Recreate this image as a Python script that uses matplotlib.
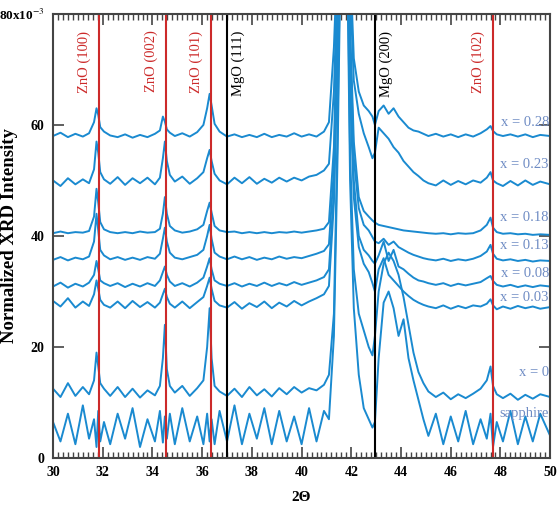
import matplotlib.pyplot as plt
from matplotlib.ticker import MultipleLocator, FixedLocator, FixedFormatter

plt.rcParams['font.family'] = ['Liberation Serif', 'DejaVu Serif']
plt.rcParams['mathtext.fontset'] = 'stix'

# 2-theta sample points (shared by every trace)
two_theta = [30.0, 30.3, 30.6, 30.9, 31.2, 31.45,
             31.65, 31.75, 31.82, 31.9, 32.05,
             32.3, 32.6, 32.9, 33.2, 33.5, 33.8, 34.1, 34.3,
             34.42, 34.5, 34.58, 34.7,
             34.9, 35.2, 35.5, 35.8, 36.05,
             36.2, 36.3, 36.38, 36.5, 36.7,
             37.0, 37.3, 37.6, 37.9, 38.2, 38.5, 38.8, 39.1, 39.4, 39.7, 40.0, 40.3, 40.6, 40.9,
             41.1, 41.3, 41.45, 41.55, 41.7, 41.85, 41.95, 42.1, 42.3, 42.5, 42.7, 42.85, 42.95,
             43.1, 43.3, 43.5, 43.7, 43.9, 44.1, 44.3, 44.5, 44.7, 44.9,
             45.1, 45.4, 45.7, 46.0, 46.3, 46.6, 46.9, 47.2,
             47.45, 47.6, 47.7, 47.85,
             48.1, 48.4, 48.7, 49.0, 49.3, 49.6, 50.0]

# normalized intensity (x10^-3), offset traces
x028 = [58.0, 58.6, 57.8, 58.4, 57.9, 58.5,
        60.5, 63.0, 61.8, 59.6, 58.8,
        58.1, 57.8, 58.3, 57.7, 58.2, 57.8, 58.4, 59.0,
        61.5, 60.6, 59.2, 58.6,
        58.0, 58.5, 57.9, 58.7, 60.0,
        63.0, 65.6, 63.5, 60.2, 58.8,
        57.9, 58.3, 57.8, 58.2, 57.8, 58.4, 57.8, 58.2, 57.9, 58.5, 57.9, 58.3, 57.9, 58.8,
        60.5, 74, 92, 115, 130, 115, 90, 72, 66, 63.5, 62.5, 61.5, 60.0,
        62.5, 63.5, 62.0, 63.0, 61.5, 60.5, 59.5, 59.0, 58.8, 58.4,
        58.0, 58.4, 57.9, 58.3, 57.8, 58.3, 57.9, 58.5,
        59.2, 59.8, 58.9, 58.3,
        58.0, 58.3, 57.9, 58.3, 57.8, 58.2, 58.0]
x023 = [50.0, 49.0, 50.4, 49.3, 50.2, 49.5,
        52.0, 57.0, 55.0, 51.5, 50.2,
        49.4, 50.6, 49.2, 50.4, 49.5, 50.5, 49.3, 50.5,
        54.0, 57.0, 53.5, 51.0,
        49.8, 50.7, 49.4, 50.4, 51.5,
        54.0, 55.5, 53.5, 51.2, 50.0,
        49.3, 50.5, 49.5, 50.6, 49.4, 50.3, 49.6, 50.5, 49.8, 50.5, 50.0, 50.7, 51.0, 51.8,
        53.0, 66, 88, 110, 125, 110, 85, 68, 62, 58.5, 56, 54, 55.0,
        59.5, 58.5, 57.5, 56.0, 55.0, 53.5, 52.5, 51.5, 50.8, 50.0,
        49.5, 49.1, 50.0, 49.2, 49.9, 49.3, 50.0, 49.6,
        50.5, 51.5, 50.0, 49.5,
        49.0, 49.9, 49.1, 50.0, 49.2, 49.8, 49.3]
x018 = [40.5, 40.8, 40.5, 40.7, 40.6, 40.9,
        43.5, 48.5, 46.0, 42.5, 41.2,
        40.7, 40.5, 40.7, 40.5, 40.8, 40.6, 40.7, 41.3,
        44.0, 47.0, 44.0, 41.8,
        41.0, 40.6, 40.8, 41.2, 42.0,
        44.5, 46.0, 44.2, 41.8, 41.0,
        40.7, 40.8, 40.5, 40.7, 40.5, 40.7, 40.5, 40.7, 40.6, 40.8, 40.6, 40.8, 41.0, 41.3,
        42.5, 56, 84, 105, 125, 105, 78, 57, 47, 44.5, 43.5, 42.8, 42.4,
        42.0, 41.8, 41.6, 41.4, 41.2, 41.0, 40.9, 40.8, 40.7, 40.6,
        40.5, 40.4, 40.5, 40.3, 40.5, 40.4, 40.5, 41.0,
        42.0, 43.3, 41.5, 40.7,
        40.4, 40.5, 40.3, 40.4, 40.2, 40.3, 40.2]
x013 = [35.7, 36.2, 35.6, 36.1, 35.8, 36.3,
        39.0, 44.0, 41.0, 37.5, 36.5,
        35.8, 36.2, 35.7, 36.1, 35.7, 36.2, 35.9, 36.8,
        39.5, 41.5, 39.0, 37.0,
        36.1, 35.8, 36.2, 36.6, 37.5,
        40.0, 42.0, 39.5, 37.0, 36.3,
        35.8, 36.3, 35.8, 36.2, 35.7, 36.1, 35.8, 36.3, 35.9, 36.2, 36.0, 36.4, 36.8, 37.3,
        38.5, 52, 80, 102, 122, 102, 75, 54, 45, 42.0, 41.0, 39.8, 39.0,
        38.7, 39.5, 38.4, 39.0, 38.0, 37.5, 37.0, 36.6, 36.3, 36.0,
        35.8, 35.6, 35.9, 35.5, 35.8, 35.6, 35.9, 36.4,
        37.2, 38.4, 36.8, 35.9,
        35.6, 35.8, 35.5, 35.7, 35.4, 35.6, 35.5]
x008 = [30.9, 31.6, 30.7, 31.4, 30.9, 31.6,
        33.0, 35.5, 34.0, 32.0, 31.5,
        31.0, 31.5, 30.8, 31.4, 30.9, 31.5, 31.0, 32.0,
        33.5, 34.5, 33.0, 31.8,
        31.0, 31.5, 30.9, 31.6, 32.5,
        34.5, 36.0, 34.0, 32.0, 31.4,
        31.0, 31.5, 30.9, 31.4, 31.0, 31.6, 31.0, 31.5, 31.1, 31.7, 31.2, 31.6, 32.0, 32.6,
        34.0, 48, 76, 100, 120, 100, 70, 50, 40, 37.5, 36.5, 35.5, 35.0,
        36.5, 39.0, 35.5, 37.5, 34.5, 34.0, 33.2, 32.5, 32.0, 31.8,
        31.5, 31.2, 31.5, 31.0, 31.4, 31.1, 31.4, 31.7,
        32.4, 32.8, 31.9, 31.2,
        30.9, 31.2, 30.8, 31.1, 30.8, 31.1, 30.9]
x003 = [28.3, 27.3, 28.8, 27.1, 28.2, 27.4,
        29.5, 32.0, 30.5, 28.5, 27.6,
        27.1, 28.2, 27.0, 28.3, 27.2, 28.1, 27.1, 28.0,
        29.5, 30.5, 29.0, 27.8,
        27.1, 28.2, 27.0, 28.1, 29.0,
        31.0, 32.5, 30.5, 28.3, 27.5,
        27.1, 28.1, 26.9, 27.9, 27.2, 28.2, 27.0, 28.0, 27.3, 28.3, 27.5, 28.2, 28.8, 29.5,
        31.0, 46, 72, 96, 118, 96, 66, 47, 38, 35.0, 33.5, 31.5, 30.0,
        34.0, 36.0, 33.0, 32.0, 31.0, 30.0, 29.2, 28.5, 28.0, 27.6,
        27.3, 27.0, 27.5, 26.9, 27.4, 27.0, 27.5, 27.3,
        27.8, 28.6, 27.5, 26.8,
        27.3, 26.9, 27.4, 27.0, 27.3, 26.9, 27.2]
x000 = [12.5, 11.0, 13.5, 11.2, 12.8, 11.5,
        14.0, 19.0, 16.5, 13.5, 12.5,
        11.2, 12.8, 11.0, 12.5, 10.9, 12.2, 11.3, 13.0,
        18.0, 24.0, 16.0, 13.0,
        11.8, 13.0, 11.2, 12.6, 14.0,
        20.0, 27.0, 18.0, 13.0, 12.0,
        11.2, 12.5, 11.0, 12.8, 11.3, 12.4, 11.1, 12.6, 11.5, 12.8, 11.8, 12.6, 12.2, 13.2,
        15.0, 26.0, 60, 90, 115, 90, 55, 34, 26, 23, 20, 18.5, 22.0,
        30.0, 35.0, 37.0, 35.5, 33.0, 29.0, 24.0, 19.0, 15.5, 13.5,
        12.0, 11.0, 11.8, 10.6, 11.5, 10.8, 11.6, 12.5,
        14.0, 16.5, 13.0, 11.5,
        10.8, 11.6, 10.5, 11.4, 10.7, 11.5, 11.0]
sapphire = [6.5, 3.0, 8.0, 2.5, 9.5, 3.5,
            7.0, 2.0, 8.5, 3.0, 6.5,
            2.5, 8.0, 3.5, 9.0, 2.0, 7.0, 3.0, 8.5,
            2.8, 7.5, 3.5, 8.0,
            2.5, 9.0, 3.0, 7.5, 2.5,
            8.0, 3.0, 7.0, 2.5, 8.5,
            3.0, 9.5, 2.5, 8.0, 3.5, 9.0, 2.5, 8.5, 3.0, 7.5, 2.5, 9.0, 3.0, 8.5,
            7.0, 22.0, 55, 85, 110, 85, 50, 27, 15, 9.0, 7.0, 5.5, 6.5,
            18.0, 28.0, 30.0, 27.0, 22.0, 25.0, 18.0, 14.0, 10.5, 7.0,
            4.0, 8.0, 2.5, 7.5, 3.0, 8.5, 2.5, 7.0,
            3.5, 8.0, 2.0, 6.5,
            3.0, 8.5, 2.5, 7.5, 3.0, 8.0, 4.0]

traces = [x028, x023, x018, x013, x008, x003, x000, sapphire]
trace_labels = ['x = 0.28', 'x = 0.23', 'x = 0.18', 'x = 0.13', 'x = 0.08', 'x = 0.03', 'x = 0', 'sapphire']
label_y = [60.5, 52.8, 43.4, 38.2, 33.3, 29.0, 15.5, 8.1]

ref_pos = [31.85, 34.55, 36.36, 37.0, 42.96, 47.7]
ref_names = ['ZnO (100)', 'ZnO (002)', 'ZnO (101)', 'MgO (111)', 'MgO (200)', 'ZnO (102)']
ref_colors = ['#cc2a2a', '#cc2a2a', '#cc2a2a', 'black', 'black', '#cc2a2a']

fig = plt.figure(figsize=(5.58, 5.13), dpi=100)
ax = fig.add_axes([0.095, 0.107, 0.891, 0.866])

for y in traces:
    ax.plot(two_theta, y, color='#1a8ad0', lw=1.4)

for pos, name, c in zip(ref_pos, ref_names, ref_colors):
    ax.axvline(pos, color=c, lw=1.5)
    if name.startswith('ZnO'):
        ax.text(pos - 0.6, 77, name, rotation=90, color=c, fontsize=10.5,
                ha='center', va='top')
    else:
        ax.text(pos + 0.45, 77, name, rotation=90, color=c, fontsize=10.5,
                ha='center', va='top')

for lab, ly in zip(trace_labels, label_y):
    ax.text(49.95, ly, lab, color='#6f8cc4', fontsize=10.5, ha='right', va='center')

ax.set_xlim(30, 50)
ax.set_ylim(0, 80)
ax.xaxis.set_major_locator(MultipleLocator(2))
ax.xaxis.set_minor_locator(MultipleLocator(0.2))
ax.yaxis.set_major_locator(FixedLocator([0, 20, 40, 60, 80]))
ax.yaxis.set_major_formatter(FixedFormatter(['0', '20', '40', '60', '80x10$^{-3}$']))
ax.tick_params(which='both', direction='in', top=True, right=True, color='#444444')
ax.tick_params(which='major', length=8, width=1.2, labelsize=10, pad=6)
ax.tick_params(which='minor', length=4, width=1.0)
for lbl in ax.get_xticklabels() + ax.get_yticklabels():
    lbl.set_fontweight('bold')
ax.get_yticklabels()[-1].set_fontsize(9.5)
for sp in ax.spines.values():
    sp.set_color('#444444')
    sp.set_linewidth(1.5)

ax.set_xlabel('2Θ', fontsize=11, fontweight='bold')
ax.xaxis.set_label_coords(0.5, -0.075)
ax.set_ylabel('Normalized XRD Intensity', fontsize=13.5, fontweight='bold')
ax.yaxis.set_label_coords(-0.07, 0.5)

fig.savefig('out.png', dpi=100)
